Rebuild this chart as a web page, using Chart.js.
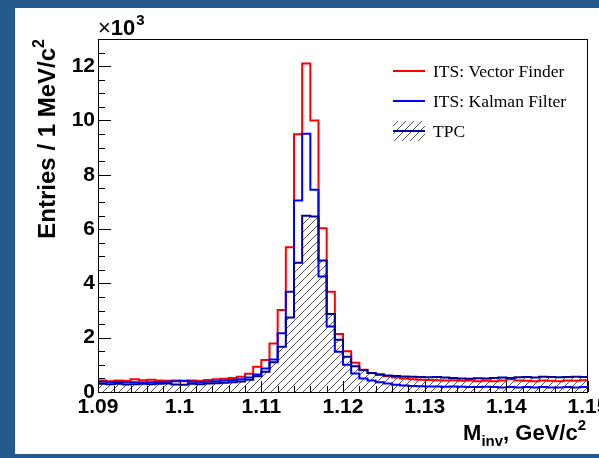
<!DOCTYPE html>
<html lang="en">
<head>
    <meta charset="utf-8">
    <script src="https://cdn.jsdelivr.net/npm/chart.js@4.4.0/dist/chart.umd.min.js"></script>
    <style>
        html, body { margin:0; padding:0; background:#245b8c; }
        body { width:599px; height:458px; overflow:hidden; position:relative; }
        .panel { position:absolute; left:15px; top:8px; width:584px; height:446px; background:#fff; }
    </style>
</head>
<body>
<div class="panel"><canvas id="myChart" width="584" height="446"></canvas></div>
<script>
    // 1 MeV bins from 1.090 to 1.150 GeV/c2, entries in units of 10^3
    const binStart = 1.09;
    const binWidth = 0.001;
    const vectorFinder = [
        0.42, 0.40, 0.42, 0.41, 0.47, 0.43, 0.45, 0.42, 0.41, 0.42,
        0.40, 0.42, 0.41, 0.44, 0.47, 0.49, 0.52, 0.56, 0.67, 0.93,
        1.18, 1.79, 3.02, 5.33, 9.49, 12.10, 10.00, 6.03, 3.69, 2.14,
        1.50, 1.08, 0.82, 0.70, 0.63, 0.58, 0.53, 0.50, 0.47, 0.45,
        0.44, 0.43, 0.42, 0.43, 0.41, 0.42, 0.40, 0.41, 0.40, 0.42,
        0.47, 0.42, 0.41, 0.40, 0.42, 0.41, 0.40, 0.42, 0.41, 0.43
    ];
    const kalmanFilter = [
        0.38, 0.37, 0.37, 0.36, 0.36, 0.35, 0.36, 0.37, 0.38, 0.40,
        0.41, 0.38, 0.37, 0.38, 0.40, 0.42, 0.44, 0.47, 0.53, 0.64,
        0.87, 1.20, 2.16, 3.69, 7.05, 9.51, 7.45, 4.25, 2.41, 1.48,
        1.00, 0.68, 0.50, 0.42, 0.36, 0.31, 0.27, 0.24, 0.22, 0.21,
        0.20, 0.20, 0.19, 0.20, 0.19, 0.18, 0.18, 0.19, 0.18, 0.17,
        0.18, 0.17, 0.18, 0.17, 0.18, 0.17, 0.17, 0.18, 0.17, 0.18
    ];
    const tpc = [
        0.30, 0.29, 0.30, 0.28, 0.29, 0.30, 0.29, 0.30, 0.31, 0.28,
        0.27, 0.30, 0.29, 0.31, 0.32, 0.34, 0.36, 0.39, 0.45, 0.58,
        0.75, 1.10, 1.67, 2.74, 4.76, 6.49, 6.46, 4.84, 2.87, 1.92,
        1.30, 0.95, 0.80, 0.70, 0.65, 0.61, 0.59, 0.57, 0.56, 0.55,
        0.54, 0.55, 0.53, 0.52, 0.50, 0.49, 0.51, 0.50, 0.52, 0.53,
        0.52, 0.54, 0.55, 0.53, 0.56, 0.55, 0.54, 0.55, 0.56, 0.55
    ];
    const seriesNames = ['ITS: Vector Finder', 'ITS: Kalman Filter', 'TPC'];
    const xTicks = [1.09, 1.10, 1.11, 1.12, 1.13, 1.14, 1.15];
    const xTickLabels = ['1.09', '1.1', '1.11', '1.12', '1.13', '1.14', '1.15'];
    const yTicks = [0, 2, 4, 6, 8, 10, 12];
    const yTickLabels = ['0', '2', '4', '6', '8', '10', '12'];

    const ctx = document.getElementById('myChart').getContext('2d');

    // histogram outline: one point per bin low edge, plus the last upper edge
    function steps(vals) {
        const pts = vals.map((v, i) => ({x: binStart + i * binWidth, y: v}));
        pts.push({x: binStart + vals.length * binWidth, y: vals[vals.length - 1]});
        return pts;
    }

    // "/" hatching like ROOT fill style 3004
    function hatch() {
        const c = document.createElement('canvas');
        c.width = 8; c.height = 8;
        const g = c.getContext('2d');
        g.strokeStyle = '#555';
        g.lineWidth = 1;
        g.beginPath();
        g.moveTo(0, 8); g.lineTo(8, 0);
        g.moveTo(-1, 1); g.lineTo(1, -1);
        g.moveTo(7, 9); g.lineTo(9, 7);
        g.stroke();
        return ctx.createPattern(c, 'repeat');
    }
    const hatchFill = hatch();

    const frameAndTicks = {
        id: 'frameAndTicks',
        afterDatasetsDraw(chart) {
            const {ctx, chartArea: a, scales: {x, y}} = chart;
            ctx.save();
            ctx.strokeStyle = '#000';
            ctx.lineWidth = 1;
            ctx.beginPath();
            for (let k = 0; k <= 26; k++) {            // every 0.5, major every 2
                const py = Math.round(y.getPixelForValue(k * 0.5)) + 0.5;
                const len = k % 4 === 0 ? 13 : 7;
                ctx.moveTo(a.left, py); ctx.lineTo(a.left + len, py);
            }
            for (let k = 0; k <= 30; k++) {            // every 0.002, major every 0.01
                const px = Math.round(x.getPixelForValue(binStart + k * 0.002)) + 0.5;
                const len = k % 5 === 0 ? 11 : 6;
                ctx.moveTo(px, a.bottom); ctx.lineTo(px, a.bottom - len);
            }
            ctx.stroke();
            ctx.strokeRect(a.left + 0.5, a.top + 0.5, a.right - a.left - 1, a.bottom - a.top);
            ctx.restore();
        },
        afterDraw(chart) {
            const {ctx, chartArea: a} = chart;
            ctx.save();
            ctx.fillStyle = '#000';
            ctx.textBaseline = 'alphabetic';
            ctx.textAlign = 'left';

            // x10^3
            ctx.font = '22px "Liberation Sans"';
            ctx.fillText('\u00d7', a.left, a.top - 4);
            let w = ctx.measureText('\u00d7').width;
            ctx.font = 'bold 22px "Liberation Sans"';
            ctx.fillText('10', a.left + w, a.top - 4);
            w += ctx.measureText('10').width;
            ctx.font = 'bold 15px "Liberation Sans"';
            ctx.fillText('3', a.left + w + 1, a.top - 14);

            // y title
            ctx.save();
            ctx.translate(40, a.top);
            ctx.rotate(-Math.PI / 2);
            ctx.font = 'bold 24px "Liberation Sans"';
            const yMain = 'Entries / 1 MeV/c';
            const w1 = ctx.measureText(yMain).width;
            ctx.font = 'bold 16px "Liberation Sans"';
            const w2 = ctx.measureText('2').width;
            ctx.fillText('2', -w2, -11);
            ctx.font = 'bold 24px "Liberation Sans"';
            ctx.fillText(yMain, -(w1 + w2), 0);
            ctx.restore();

            // x title, right aligned
            const parts = [
                ['M', 'bold 22px "Liberation Sans"', 0],
                ['inv', 'bold 15px "Liberation Sans"', 6],
                [', GeV/c', 'bold 22px "Liberation Sans"', 0],
                ['2', 'bold 15px "Liberation Sans"', -10]
            ];
            let total = 0;
            parts.forEach(p => { ctx.font = p[1]; total += ctx.measureText(p[0]).width; });
            let px = a.right - total - 2;
            parts.forEach(p => {
                ctx.font = p[1];
                ctx.fillText(p[0], px, 432 + p[2]);
                px += ctx.measureText(p[0]).width;
            });

            // legend
            ctx.font = '17.5px "Liberation Serif"';
            ctx.textBaseline = 'middle';
            chart.data.datasets.forEach((ds, i) => {
                const ry = 63 + 30 * i;
                if (ds.fill) {
                    ctx.fillStyle = ds.backgroundColor;
                    ctx.fillRect(378, ry - 10, 32, 20);
                }
                ctx.strokeStyle = ds.borderColor;
                ctx.lineWidth = 2;
                ctx.beginPath();
                ctx.moveTo(378, ry); ctx.lineTo(410, ry);
                ctx.stroke();
                ctx.fillStyle = '#000';
                ctx.fillText(ds.label, 418, ry + 1);
            });
            ctx.restore();
        }
    };

    const myChart = new Chart(ctx, {
        type: 'line',
        data: {
            datasets: [{
                label: seriesNames[0],
                data: steps(vectorFinder),
                borderColor: '#ff0000',
                borderWidth: 2,
                stepped: 'before',
                fill: false,
                pointRadius: 0,
                order: 2
            }, {
                label: seriesNames[1],
                data: steps(kalmanFilter),
                borderColor: '#0000ff',
                borderWidth: 2,
                stepped: 'before',
                fill: false,
                pointRadius: 0,
                order: 1
            }, {
                label: seriesNames[2],
                data: steps(tpc),
                borderColor: '#000099',
                backgroundColor: hatchFill,
                borderWidth: 2,
                stepped: 'before',
                fill: 'origin',
                pointRadius: 0,
                order: 0
            }]
        },
        options: {
            responsive: false,
            animation: false,
            events: [],
            devicePixelRatio: 1,
            layout: {padding: {top: 31, right: 11, left: 0, bottom: 0}},
            plugins: {
                legend: {display: false},
                tooltip: {enabled: false},
                filler: {drawTime: 'beforeDatasetsDraw'}
            },
            scales: {
                x: {
                    type: 'linear',
                    min: 1.09,
                    max: 1.15,
                    grid: {display: false, drawTicks: false},
                    border: {display: false},
                    afterBuildTicks: s => { s.ticks = xTicks.map(v => ({value: v})); },
                    afterFit: s => { s.height = 62; s.paddingLeft = 0; s.paddingRight = 0; },
                    ticks: {
                        autoSkip: false,
                        maxRotation: 0,
                        padding: 3,
                        color: '#000',
                        font: {family: 'Liberation Sans', size: 21, weight: 'bold'},
                        callback: (v, i) => xTickLabels[i]
                    }
                },
                y: {
                    min: 0,
                    max: 13,
                    grid: {display: false, drawTicks: false},
                    border: {display: false},
                    afterBuildTicks: s => { s.ticks = yTicks.map(v => ({value: v})); },
                    afterFit: s => { s.width = 83; s.paddingTop = 0; s.paddingBottom = 0; },
                    ticks: {
                        autoSkip: false,
                        padding: 3,
                        color: '#000',
                        font: {family: 'Liberation Sans', size: 21, weight: 'bold'},
                        callback: (v, i) => yTickLabels[i]
                    }
                }
            }
        },
        plugins: [frameAndTicks]
    });
</script>
</body>
</html>
